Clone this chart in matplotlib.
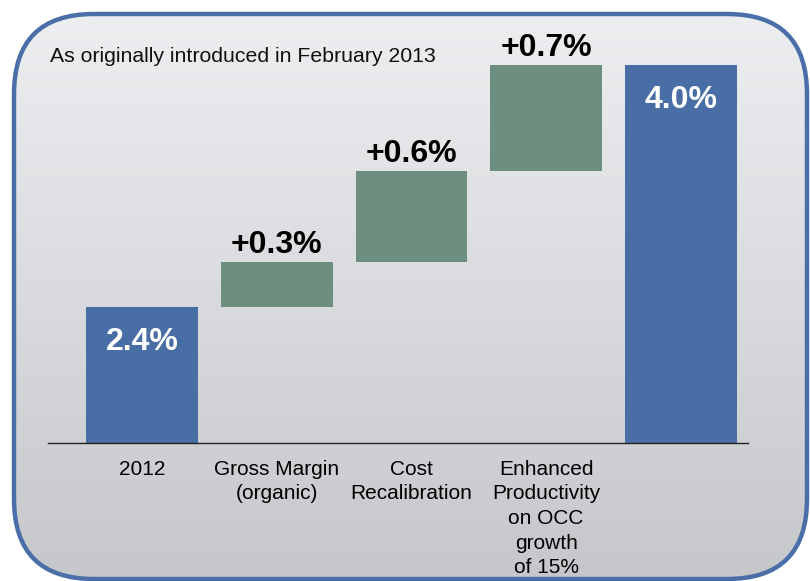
import numpy as np
import matplotlib
matplotlib.use('Agg')
import matplotlib.pyplot as plt
from matplotlib.patches import FancyBboxPatch

plt.rcParams['font.family'] = ['Liberation Sans', 'DejaVu Sans']

categories = ['2012', 'Gross Margin\n(organic)', 'Cost\nRecalibration',
              'Enhanced\nProductivity\non OCC\ngrowth\nof 15%', '']
values = [2.4, 0.3, 0.6, 0.7, 4.0]
kinds = ['total', 'delta', 'delta', 'delta', 'total']
labels = ['2.4%', '+0.3%', '+0.6%', '+0.7%', '4.0%']
title = 'As originally introduced in February 2013'

blue = '#486ea5'
green = '#6e8f80'

W, H = 810, 581
fig = plt.figure(figsize=(W / 100, H / 100), dpi=100)

# background panel with rounded border and vertical gradient
bg = fig.add_axes([0, 0, 1, 1])
bg.set_xlim(0, W)
bg.set_ylim(H, 0)
bg.axis('off')
box = FancyBboxPatch((14, 14), 793, 565, boxstyle='round,pad=0,rounding_size=80',
                     facecolor='none', edgecolor='#4a6fa8', linewidth=3.2, zorder=3)
bg.add_patch(box)
grad = np.linspace(0, 1, 256).reshape(-1, 1)
im = bg.imshow(grad, extent=(0, W, H, 0), aspect='auto', zorder=1,
               cmap=matplotlib.colors.LinearSegmentedColormap.from_list('g', ['#eeeff1', '#c6c7cb']))
clip = FancyBboxPatch((14, 14), 793, 565, boxstyle='round,pad=0,rounding_size=80',
                      facecolor='none', edgecolor='none', transform=bg.transData)
im.set_clip_path(clip)
bg.text(50, 57, title, fontsize=15.3, ha='left', va='center', color='#111111')

# main chart axes, positioned in pixels
x_left, x_right, y_base, y_top = 48, 748, 443, 20
ax = fig.add_axes([x_left / W, (H - y_base) / H, (x_right - x_left) / W, (y_base - y_top) / H])
ax.patch.set_alpha(0)
px_per_unit = 151.25
ax.set_ylim(1.5, 1.5 + (y_base - y_top) / px_per_unit)
ax.set_xlim(-0.7, 4.5)

x = np.arange(len(values))
bottoms = []
running = 0
for v, k in zip(values, kinds):
    if k == 'total':
        bottoms.append(0)
        running = v
    else:
        bottoms.append(running)
        running += v
colors = [blue if k == 'total' else green for k in kinds]
ax.bar(x, values, bottom=bottoms, width=0.83, color=colors, zorder=2)

for xi, v, b, k, lab in zip(x, values, bottoms, kinds, labels):
    top = b + v
    if k == 'total':
        ax.annotate(lab, (xi, top), xytext=(0, -25.5), textcoords='offset points',
                    ha='center', va='center', color='white', fontsize=23, fontweight='bold')
    else:
        ax.annotate(lab, (xi, top), xytext=(0, 1), textcoords='offset points',
                    ha='center', va='bottom', color='black', fontsize=23, fontweight='bold')

for s in ['top', 'right', 'left']:
    ax.spines[s].set_visible(False)
ax.spines['bottom'].set_color('#222222')
ax.spines['bottom'].set_linewidth(1.0)
ax.set_yticks([])
ax.set_xticks(x)
ax.set_xticklabels(categories, fontsize=15, linespacing=1.38)
ax.tick_params(axis='x', length=0, pad=12)

fig.savefig('out.png', dpi=100)
